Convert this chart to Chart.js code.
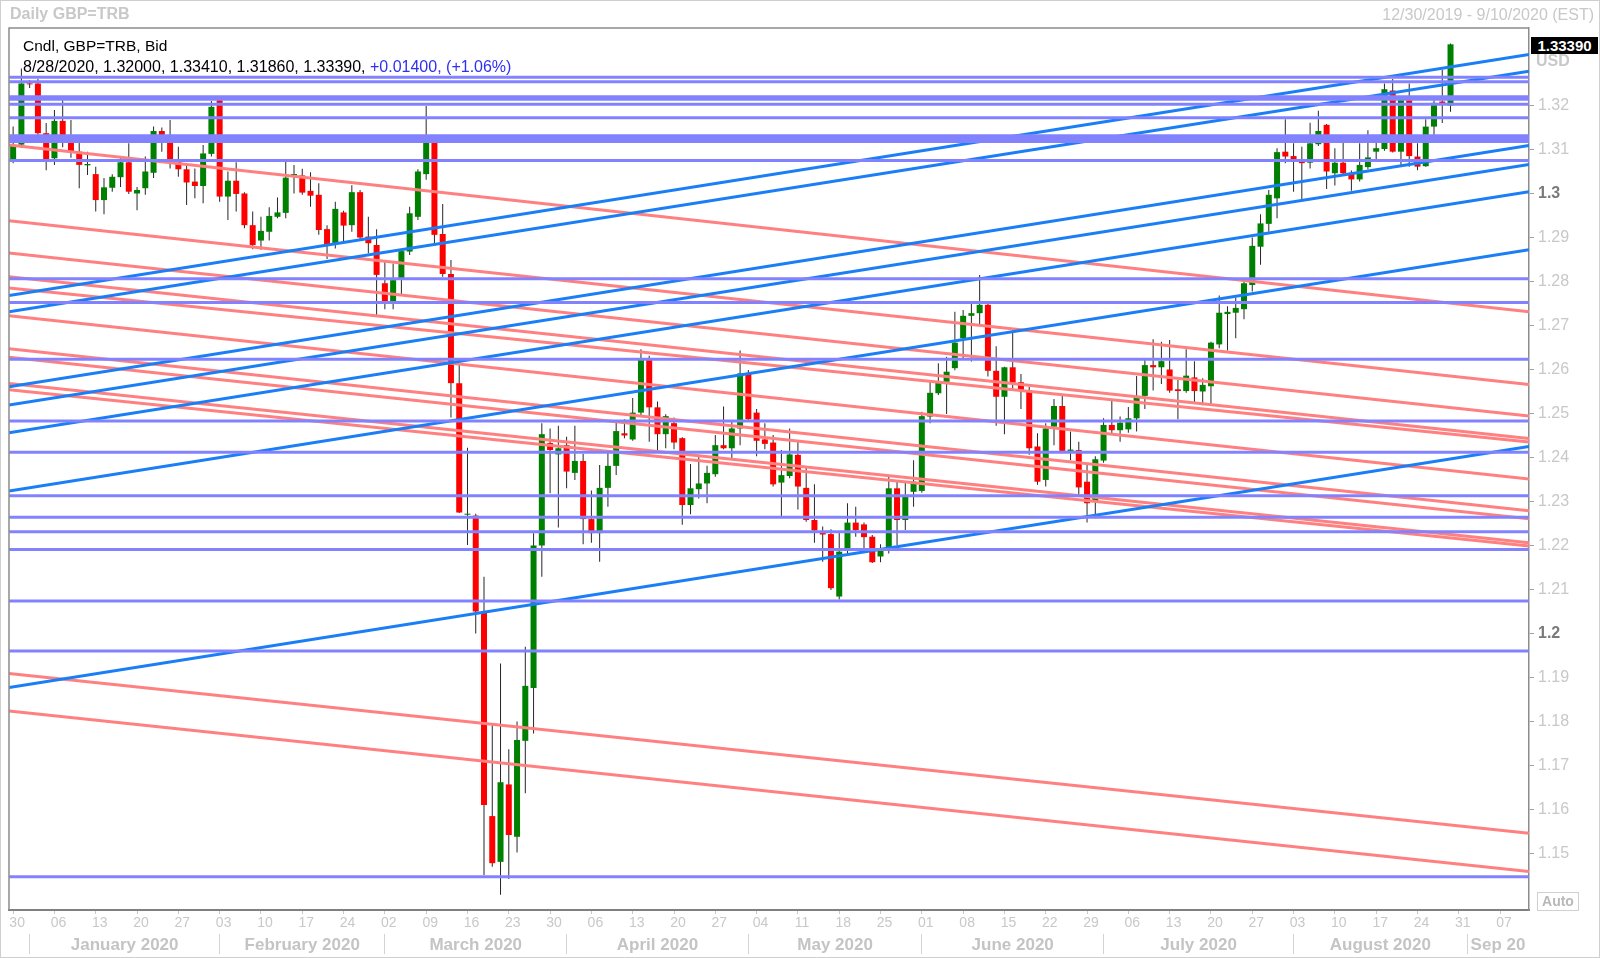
<!DOCTYPE html>
<html>
<head>
<meta charset="utf-8">
<script src="https://cdn.jsdelivr.net/npm/chart.js@4/dist/chart.umd.min.js"></script>
<style>
  body { margin: 0; background: #fff; font-family: "Liberation Sans", Arial, sans-serif; }
  #wrap { position: relative; width: 1600px; height: 958px; overflow: hidden; }
  #frame { position: absolute; left: 0; top: 0; width: 1598px; height: 956px; border: 1px solid #cfcfcf; pointer-events: none; }
  .t { position: absolute; white-space: nowrap; line-height: 1; }
  #title { left: 10px; top: 6px; font-size: 16px; font-weight: bold; color: #c8c8c8; }
  #range { right: 6px; top: 7px; font-size: 16px; color: #c8c8c8; }
  #leg1 { left: 23px; top: 38px; font-size: 15.5px; color: #000; }
  #leg2 { left: 23px; top: 59px; font-size: 16px; color: #000; }
  #leg2 span { color: #2f2ff0; }
  #last { left: 1531px; top: 37px; width: 67px; height: 17px; background: #000; color: #fff; font-weight: bold; font-size: 15px; line-height: 17px; text-align: center; }
  #usd { left: 1536px; top: 53px; font-size: 16px; font-weight: bold; color: #c8c8c8; }
  #auto { left: 1537px; top: 892px; width: 40px; height: 17px; border: 1px solid #d0d0d0; font-size: 14px; font-weight: bold; color: #b8b8b8; line-height: 17px; text-align: center; }
</style>
</head>
<body>
<div id="wrap">
  <canvas id="chart" width="1600" height="958"></canvas>
  <div class="t" id="title">Daily GBP=TRB</div>
  <div class="t" id="range">12/30/2019 - 9/10/2020 (EST)</div>
  <div class="t" id="leg1">Cndl, GBP=TRB, Bid</div>
  <div class="t" id="leg2">8/28/2020, 1.32000, 1.33410, 1.31860, 1.33390, <span>+0.01400, (+1.06%)</span></div>
  <div class="t" id="usd">USD</div>
  <div class="t" id="last">1.33390</div>
  <div class="t" id="auto">Auto</div>
  <div id="frame"></div>
</div>
<script>
// daily candles, 30 Dec 2019 .. 28 Aug 2020 (weekdays)
var opens = [
  1.3076,1.3111,1.3250,1.3250,1.3137,1.3080,1.3165,1.3118,1.3095,1.3064,
  1.3044,1.2985,1.3013,1.3037,1.3071,1.3000,1.3012,1.3047,1.3142,1.3133,
  1.3072,1.3055,1.3027,1.3017,1.3090,1.3212,1.2993,1.3029,1.3000,1.2928,
  1.2893,1.2913,1.2947,1.2956,1.3042,1.3041,1.3006,1.2997,1.2919,1.2887,
  1.2957,1.2928,1.3003,1.2902,1.2883,1.2796,1.2754,1.2807,1.2868,1.2947,
  1.3044,1.3123,1.2908,1.2817,1.2569,1.2270,1.2268,1.2050,1.1585,1.1481,
  1.1657,1.1538,1.1756,1.1876,1.2200,1.2433,1.2407,1.2428,1.2365,1.2392,
  1.2260,1.2228,1.2331,1.2381,1.2455,1.2441,1.2502,1.2622,1.2514,1.2453,
  1.2478,1.2444,1.2292,1.2328,1.2341,1.2362,1.2428,1.2421,1.2466,1.2591,
  1.2502,1.2441,1.2434,1.2343,1.2358,1.2406,1.2331,1.2258,1.2229,1.2226,
  1.2084,1.2194,1.2252,1.2248,1.2220,1.2175,1.2190,1.2330,1.2258,1.2322,
  1.2324,1.2493,1.2546,1.2572,1.2603,1.2671,1.2722,1.2728,1.2747,1.2597,
  1.2538,1.2605,1.2571,1.2553,1.2425,1.2349,1.2470,1.2517,1.2415,1.2417,
  1.2345,1.2300,1.2393,1.2474,1.2462,1.2464,1.2489,1.2540,1.2610,1.2605,
  1.2600,1.2555,1.2551,1.2582,1.2550,1.2562,1.2657,1.2726,1.2729,1.2737,
  1.2792,1.2879,1.2931,1.2989,1.3095,1.3085,1.3072,1.3070,1.3112,1.3156,
  1.3046,1.3070,1.3047,1.3032,1.3060,1.3095,1.3101,1.3234,1.3095,1.3212,
  1.3084,1.3062,1.3152,1.3209,1.3200
];
var highs = [
  1.3152,1.3284,1.3258,1.3260,1.3160,1.3190,1.3212,1.3167,1.3118,1.3095,
  1.3061,1.3035,1.3044,1.3084,1.3114,1.3015,1.3084,1.3152,1.3150,1.3167,
  1.3106,1.3065,1.3057,1.3110,1.3210,1.3216,1.3050,1.3071,1.3003,1.2959,
  1.2947,1.2969,1.2991,1.3072,1.3065,1.3056,1.3048,1.3023,1.2928,1.2981,
  1.2961,1.3019,1.3008,1.2947,1.2919,1.2849,1.2841,1.2872,1.2970,1.3055,
  1.3199,1.3126,1.2976,1.2849,1.2610,1.2422,1.2272,1.2129,1.1792,1.1932,
  1.1737,1.1800,1.1970,1.2228,1.2478,1.2466,1.2472,1.2447,1.2472,1.2408,
  1.2325,1.2383,1.2413,1.2481,1.2487,1.2535,1.2646,1.2631,1.2527,1.2498,
  1.2491,1.2446,1.2385,1.2406,1.2381,1.2451,1.2516,1.2485,1.2643,1.2599,
  1.2510,1.2478,1.2451,1.2417,1.2466,1.2436,1.2379,1.2339,1.2243,1.2237,
  1.2231,1.2296,1.2288,1.2252,1.2224,1.2203,1.2360,1.2349,1.2345,1.2394,
  1.2504,1.2575,1.2614,1.2629,1.2731,1.2735,1.2750,1.2815,1.2749,1.2653,
  1.2606,1.2686,1.2590,1.2561,1.2455,1.2478,1.2533,1.2540,1.2459,1.2436,
  1.2383,1.2403,1.2489,1.2531,1.2493,1.2515,1.2585,1.2622,1.2669,1.2663,
  1.2667,1.2576,1.2646,1.2619,1.2580,1.2663,1.2768,1.2744,1.2763,1.2807,
  1.2900,1.2953,1.3008,1.3103,1.3169,1.3114,1.3106,1.3161,1.3188,1.3158,
  1.3103,1.3123,1.3052,1.3114,1.3144,1.3125,1.3250,1.3260,1.3220,1.3250,
  1.3114,1.3169,1.3212,1.3281,1.3341
];
var lows = [
  1.3069,1.3104,1.3240,1.3122,1.3053,1.3065,1.3105,1.3081,1.3012,1.3042,
  1.2959,1.2953,1.3004,1.3015,1.2999,1.2962,1.2997,1.3035,1.3095,1.3057,
  1.3038,1.2974,1.2989,1.2978,1.3084,1.2981,1.2940,1.2959,1.2921,1.2873,
  1.2872,1.2893,1.2944,1.2944,1.3000,1.2997,1.2970,1.2906,1.2851,1.2875,
  1.2890,1.2913,1.2894,1.2864,1.2724,1.2737,1.2737,1.2769,1.2860,1.2940,
  1.3031,1.2887,1.2811,1.2491,1.2274,1.2201,1.2000,1.1451,1.1470,1.1406,
  1.1442,1.1502,1.1637,1.1773,1.2129,1.2319,1.2241,1.2330,1.2349,1.2203,
  1.2206,1.2163,1.2288,1.2360,1.2444,1.2438,1.2493,1.2436,1.2413,1.2421,
  1.2419,1.2247,1.2271,1.2307,1.2296,1.2356,1.2419,1.2396,1.2428,1.2485,
  1.2403,1.2419,1.2334,1.2265,1.2353,1.2282,1.2254,1.2206,1.2163,1.2099,
  1.2077,1.2182,1.2220,1.2194,1.2160,1.2162,1.2182,1.2201,1.2235,1.2288,
  1.2320,1.2478,1.2542,1.2499,1.2598,1.2625,1.2618,1.2703,1.2584,1.2472,
  1.2453,1.2555,1.2510,1.2406,1.2338,1.2334,1.2428,1.2413,1.2394,1.2315,
  1.2252,1.2262,1.2388,1.2451,1.2436,1.2456,1.2459,1.2510,1.2552,1.2567,
  1.2547,1.2487,1.2547,1.2525,1.2519,1.2517,1.2648,1.2643,1.2671,1.2714,
  1.2777,1.2838,1.2913,1.2944,1.3069,1.3004,1.2987,1.3057,1.3108,1.3010,
  1.3018,1.3044,1.3006,1.3027,1.3055,1.3076,1.3097,1.3093,1.3065,1.3061,
  1.3053,1.3061,1.3118,1.3160,1.3186
];
var closes = [
  1.3110,1.3250,1.3248,1.3137,1.3076,1.3165,1.3118,1.3094,1.3065,1.3067,
  1.2985,1.3014,1.3038,1.3071,1.3004,1.3008,1.3050,1.3142,1.3118,1.3076,
  1.3055,1.3025,1.3017,1.3091,1.3197,1.2993,1.3029,1.2999,1.2928,1.2883,
  1.2915,1.2949,1.2957,1.3036,1.3044,1.3002,1.2995,1.2917,1.2885,1.2965,
  1.2927,1.3003,1.2900,1.2887,1.2815,1.2754,1.2803,1.2869,1.2955,1.3050,
  1.3123,1.2906,1.2817,1.2569,1.2275,1.2272,1.2050,1.1610,1.1478,1.1662,
  1.1542,1.1758,1.1881,1.2200,1.2453,1.2417,1.2421,1.2368,1.2392,1.2260,
  1.2228,1.2331,1.2381,1.2460,1.2450,1.2502,1.2622,1.2514,1.2453,1.2494,
  1.2434,1.2292,1.2330,1.2341,1.2365,1.2428,1.2421,1.2466,1.2591,1.2487,
  1.2438,1.2431,1.2339,1.2360,1.2407,1.2334,1.2258,1.2234,1.2225,1.2103,
  1.2186,1.2252,1.2235,1.2219,1.2162,1.2190,1.2330,1.2258,1.2311,1.2345,
  1.2494,1.2547,1.2570,1.2595,1.2661,1.2722,1.2728,1.2747,1.2597,1.2538,
  1.2605,1.2570,1.2553,1.2421,1.2345,1.2466,1.2517,1.2415,1.2418,1.2332,
  1.2296,1.2396,1.2474,1.2462,1.2479,1.2489,1.2540,1.2610,1.2605,1.2619,
  1.2552,1.2551,1.2586,1.2551,1.2565,1.2661,1.2729,1.2731,1.2740,1.2796,
  1.2881,1.2932,1.2997,1.3094,1.3084,1.3076,1.3069,1.3114,1.3142,1.3050,
  1.3070,1.3046,1.3032,1.3065,1.3082,1.3103,1.3237,1.3095,1.3212,1.3085,
  1.3061,1.3152,1.3206,1.3205,1.3339
];

// horizontal support / resistance levels
var levels = [
  1.3264,1.3254,1.3220,1.3214,1.3203,1.3172,1.3131,1.3125,1.3118,1.3075,
  1.2806,1.2752,1.2623,1.2483,1.2412,1.2313,1.2264,1.2231,1.2191,1.2074,
  1.1960,1.1447
];
// rising trend lines: value at left edge, value at right edge
var upLeft  = [1.2768,1.2731,1.2561,1.2519,1.2456,1.2324,1.1877];
var upRight = [1.3316,1.3278,1.3109,1.3066,1.3004,1.2872,1.2425];
// falling trend lines
var downLeft  = [1.3110,1.2938,1.2865,1.2811,1.2785,1.2722,1.2647,1.2628,1.2568,1.2554,1.1909,1.1824];
var downRight = [1.2731,1.2566,1.2494,1.2443,1.2435,1.2351,1.2279,1.2261,1.2206,1.2199,1.1546,1.1459];

// price axis (1.33 sits under the USD label)
var priceTicks = [1.15,1.16,1.17,1.18,1.19,1.2,1.21,1.22,1.23,1.24,1.25,1.26,1.27,1.28,1.29,1.3,1.31,1.32];

// date axis (index of weekday since 30 Dec 2019)
var weekIdx = [0,5,10,15,20,25,30,35,40,45,50,55,60,65,70,75,80,85,90,95,100,105,110,115,120,125,130,135,140,145,150,155,160,165,170,175,180];
var weekLabels = ["30","06","13","20","27","03","10","17","24","02","09","16","23","30","06","13","20","27","04","11","18","25","01","08","15","22","29","06","13","20","27","03","10","17","24","31","07"];
var monthStart = [2,25,45,67,89,110,132,155,176];
var monthLabels = ["January 2020","February 2020","March 2020","April 2020","May 2020","June 2020","July 2020","August 2020","Sep 20"];

var xFrom = -0.5, xTo = 183.5;
var yMin = 1.13716, yMax = 1.33761;

var upColor = "#008000", downColor = "#ff0000";
var levelColor = "#8282ff", upLineColor = "#1a7ef6", downLineColor = "#ff8080";
var font = "'Liberation Sans', Arial, sans-serif";

var bodies = opens.map((o, i) => ({ x: i, y: [o, closes[i]] }));
var wicks = lows.map((l, i) => ({ x: i, y: [l, highs[i]] }));
var bodyColors = opens.map((o, i) => closes[i] >= o ? upColor : downColor);

function segment(a, b, color) {
  return {
    type: "line",
    data: [{ x: xFrom, y: a }, { x: xTo, y: b }],
    borderColor: color,
    borderWidth: 3,
    pointRadius: 0,
    tension: 0,
    fill: false,
    order: 0,
  };
}

var datasets = [
  {
    type: "bar",
    data: wicks,
    backgroundColor: "#262626",
    barThickness: 1,
    grouped: false,
    inflateAmount: 0,
    order: 3,
  },
  {
    type: "bar",
    data: bodies,
    backgroundColor: bodyColors,
    barThickness: 6,
    minBarLength: 1,
    grouped: false,
    inflateAmount: 0,
    order: 2,
  },
];
levels.forEach((v) => datasets.push(segment(v, v, levelColor)));
upLeft.forEach((v, i) => datasets.push(segment(v, upRight[i], upLineColor)));
downLeft.forEach((v, i) => datasets.push(segment(v, downRight[i], downLineColor)));

// month ticks: separators at month starts, labels half way
var monthTicks = [];
var monthText = {};
monthStart.forEach((s, k) => {
  var end = k < monthStart.length - 1 ? monthStart[k + 1] : xTo;
  var mid = (s + end) / 2;
  monthTicks.push({ value: s });
  monthTicks.push({ value: mid });
  monthText[mid] = monthLabels[k];
});

var plotFrame = {
  id: "plotFrame",
  afterDatasetsDraw(chart) {
    var a = chart.chartArea;
    var c = chart.ctx;
    c.save();
    c.strokeStyle = "#8c8c8c";
    c.lineWidth = 1.5;
    c.beginPath();
    c.moveTo(a.left, a.bottom);
    c.lineTo(a.left, a.top);
    c.lineTo(a.right, a.top);
    c.stroke();
    c.restore();
  },
};

new Chart(document.getElementById("chart"), {
  type: "bar",
  data: { datasets: datasets },
  plugins: [plotFrame],
  options: {
    responsive: false,
    animation: false,
    layout: { padding: { top: 28, left: 9, right: 0, bottom: 0 } },
    plugins: { legend: { display: false }, tooltip: { enabled: false } },
    scales: {
      x: {
        type: "linear",
        position: "bottom",
        offset: false,
        weight: 0,
        min: xFrom,
        max: xTo,
        afterBuildTicks: (s) => { s.ticks = weekIdx.map((v) => ({ value: v })); },
        afterFit: (s) => { s.height = 24; },
        grid: { offset: false, drawOnChartArea: false, drawTicks: true, tickLength: 4, color: "#c8c8c8" },
        border: { display: true, color: "#808080", width: 2 },
        ticks: {
          autoSkip: false,
          maxRotation: 0,
          minRotation: 0,
          padding: 1,
          labelOffset: 4,
          color: "#c8c8c8",
          font: { family: font, size: 14 },
          callback: (v, i) => weekLabels[i],
        },
      },
      x2: {
        type: "linear",
        position: "bottom",
        offset: false,
        weight: 1,
        min: xFrom,
        max: xTo,
        afterBuildTicks: (s) => { s.ticks = monthTicks.map((t) => ({ value: t.value })); },
        afterFit: (s) => { s.height = 24; },
        grid: {
          offset: false,
          drawOnChartArea: false,
          drawTicks: true,
          tickLength: 20,
          color: (c) => (c.tick && monthText[c.tick.value] === undefined ? "#d4d4d4" : "rgba(0,0,0,0)"),
        },
        border: { display: false },
        ticks: {
          autoSkip: false,
          maxRotation: 0,
          minRotation: 0,
          padding: -19,
          color: "#c4c4c4",
          font: { family: font, size: 17, weight: "bold" },
          callback: (v) => monthText[v] || "",
        },
      },
      y: {
        type: "linear",
        position: "right",
        min: yMin,
        max: yMax,
        afterBuildTicks: (s) => { s.ticks = priceTicks.map((v) => ({ value: v })); },
        afterFit: (s) => { s.width = 71; },
        grid: { drawOnChartArea: false, drawTicks: true, tickLength: 5, color: "#a0a0a0" },
        border: { display: true, color: "#8c8c8c", width: 1.5 },
        ticks: {
          autoSkip: false,
          padding: 4,
          color: (c) => (Math.abs(c.tick.value * 10 - Math.round(c.tick.value * 10)) < 1e-6 ? "#7a7a7a" : "#c8c8c8"),
          font: (c) => ({
            family: font,
            size: 16,
            weight: c.tick && Math.abs(c.tick.value * 10 - Math.round(c.tick.value * 10)) < 1e-6 ? "bold" : "normal",
          }),
          callback: (v) => String(+v.toFixed(2)),
        },
      },
    },
  },
});
</script>
</body>
</html>
